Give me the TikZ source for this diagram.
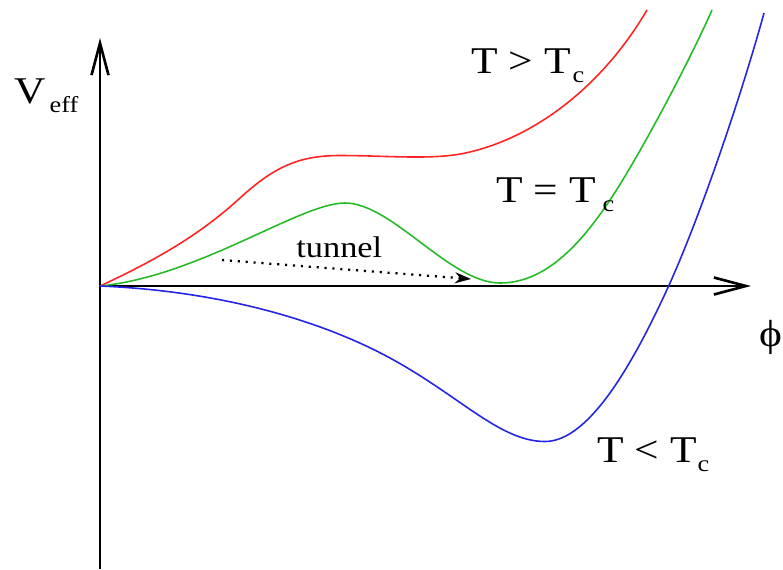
\documentclass[tikz,border=0pt]{standalone}
\usepackage{fontspec}
\setmainfont[FakeStretch=1.15]{Liberation Serif}
\usetikzlibrary{arrows.meta}
\definecolor{hotEdge}{HTML}{FF2424}
\definecolor{critEdge}{HTML}{26BB26}
\definecolor{coldEdge}{HTML}{2424E6}
\newcommand{\FigBig}{\fontsize{21.5}{24}\selectfont}
\newcommand{\FigMid}{\fontsize{17}{20}\selectfont}
\newcommand{\FigSub}[2][0.08cm]{\kern#1\raisebox{-0.18cm}{\fontsize{13}{15}\selectfont #2}}

\begin{document}
\begin{tikzpicture}[
  x=0.02cm, y=-0.02cm,
  lbl/.style   = {font=\FigBig, inner sep=0pt, anchor=base west},
  axis/.style  = {line width=1.5pt, -{Straight Barb[length=6.4mm, width=3.4mm]}},
  curve/.style = {line width=0.9pt},
  tun/.style   = {line width=1.3pt, dash pattern=on 1.2pt off 3.3pt,
                  -{Stealth[length=3.2mm, width=2.2mm]}},
]
\useasboundingbox (0,0) rectangle (783,569);

% ---------------------------------------------------------------- axes
\coordinate (orig) at (100,286);
\coordinate (yBot) at (100,569);
\coordinate (yTip) at (100,38);
\coordinate (xTip) at (751,286);
\draw[axis] (yBot) -- (yTip);
\draw[axis] (orig) -- (xTip);

\node[lbl] (vLabel) at (14,103) {V\FigSub{eff}};
\node[font=\FigBig, inner sep=0pt] (phiLabel) at (771,337) {ϕ};

% ---------------------------------------------------------------- potentials
% T > Tc
\draw[curve, hotEdge] (orig)
  .. controls (165,256) and (205,230) .. (240,198)
  .. controls (275,166) and (300,155.5) .. (340,155.5)
  .. controls (385,155.5) and (430,160) .. (463,153.5)
  .. controls (530,140) and (600,90) .. (647,10);
% T = Tc
\draw[curve, critEdge] (orig)
  .. controls (200,276) and (300,203) .. (345,203)
  .. controls (392,203) and (450,283) .. (500,283)
  .. controls (545,283) and (580,245) .. (610,200)
  .. controls (640,155) and (690,60) .. (712,10);
% T < Tc
\draw[curve, coldEdge] (orig)
  .. controls (220,291) and (320,320) .. (390,358)
  .. controls (460,396) and (500,441.5) .. (545,441.5)
  .. controls (590,441.5) and (635,360) .. (670,283)
  .. controls (700,216) and (740,100) .. (764,13);

\node[lbl] (hotLabel)  at (471,73)  {T > T\FigSub[0.04cm]{c}};
\node[lbl] (critLabel) at (496,202) {T = T\FigSub[0.14cm]{c}};
\node[lbl] (coldLabel) at (597,462) {T < T\FigSub[0.02cm]{c}};

% ---------------------------------------------------------------- tunnelling
\coordinate (tunFrom) at (222,260);
\coordinate (tunTo)   at (471,279);
\draw[tun] (tunFrom) -- (tunTo);
\node[lbl, font=\FigMid] (tunLabel) at (296,257) {tunnel};

\end{tikzpicture}
\end{document}
